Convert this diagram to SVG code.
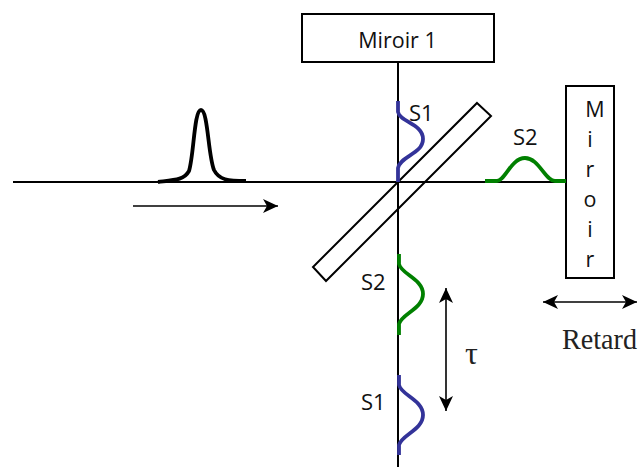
<svg xmlns="http://www.w3.org/2000/svg" width="638" height="467" viewBox="0 0 638 467">
<defs>
<marker id="head" viewBox="0 0 16 14" refX="15" refY="7" markerWidth="16" markerHeight="14" markerUnits="userSpaceOnUse" orient="auto-start-reverse"><path d="M0 0L15 7L0 14L4 7Z" fill="#000"/></marker>
</defs>
<style>
.l{fill:none;stroke:#000;stroke-width:2}
.box{fill:#fff;stroke:#000;stroke-width:2}
.a{fill:none;stroke:#000;stroke-width:1.6;marker-end:url(#head)}
.ab{fill:none;stroke:#000;stroke-width:1.6;marker-start:url(#head);marker-end:url(#head)}
.blue{fill:none;stroke:#333399;stroke-width:3.8}
.green{fill:none;stroke:#008000;stroke-width:3.8}
.c{font-family:"Open Sans","Noto Sans",sans-serif;font-size:21.5px;text-anchor:middle;fill:#111}
.s{font-family:"Open Sans","Noto Sans",sans-serif;font-size:22px;fill:#111}
.g{font-family:"Liberation Serif",serif;fill:#222}
</style>
<g id="splitter"><path class="box" d="M477 103L491 116L326 281L313 267Z"/></g>
<g id="connectors">
<path class="l" d="M13 182H566"/>
<path class="l" d="M398 62V467"/>
<path class="a" d="M133 206H278"/>
<path class="ab" d="M543 302H637"/>
<path class="ab" d="M446 288V411"/>
</g>
<g id="miroir1"><rect class="box" x="302" y="14" width="192" height="48"/><text class="c" x="397.500" y="48">Miroir 1</text></g>
<g id="miroir2"><rect class="box" x="566" y="86" width="48" height="192"/>
<text class="c" x="595" y="117">M</text>
<text class="c" x="590" y="147">i</text>
<text class="c" x="590" y="177">r</text>
<text class="c" x="590" y="207">o</text>
<text class="c" x="590" y="237">i</text>
<text class="c" x="590" y="267">r</text>
</g>
<g id="pulse-in"><path fill="none" stroke="#000" stroke-width="3.8" d="M158 182C175 180 184 180 189 171C194 155 194 110 201 110C208 110 208 155 214 170C219 180 228 181 246 181"/></g>
<g id="pulse-s1-top"><path class="blue" d="M398 101V112C400 122 423 124 423 139C423 154 400 156 398 168V182"/><text class="s" x="409" y="121">S1</text></g>
<g id="pulse-s2-right"><path class="green" d="M485 181H497C505 181 511 158 525 158C539 158 545 181 555 181H566"/><text class="s" x="513" y="145">S2</text></g>
<g id="pulse-s2-bottom"><path class="green" d="M399 254V264C401 274 423 279 423 294C423 309 401 314 399 324V335"/><text class="s" x="361" y="290">S2</text></g>
<g id="pulse-s1-bottom"><path class="blue" d="M399 375V385C401 395 423 400 423 415C423 430 401 435 399 445V455"/><text class="s" x="361" y="410">S1</text></g>
<g id="label-tau"><text class="g" x="465" y="364" font-size="32">τ</text></g>
<g id="label-retard"><text class="g" x="562" y="349" font-size="29" textLength="75" lengthAdjust="spacingAndGlyphs">Retard</text></g>
</svg>
